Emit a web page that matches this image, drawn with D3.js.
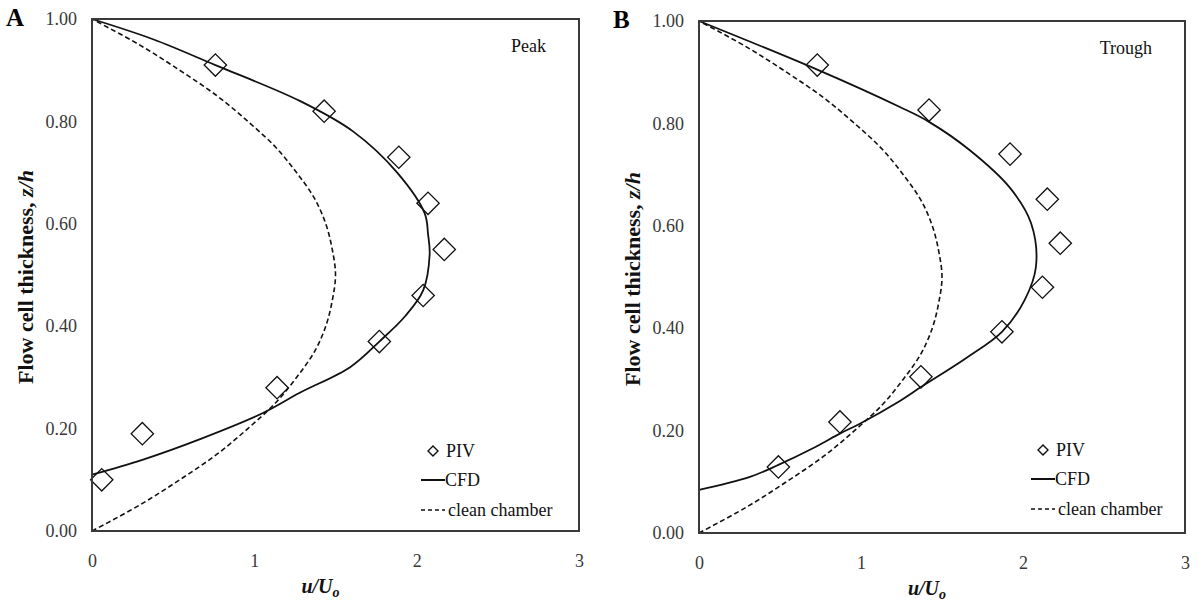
<!DOCTYPE html>
<html>
<head>
<meta charset="utf-8">
<script src="https://cdn.jsdelivr.net/npm/d3@7"></script>
<style>
body { margin: 0; background: #fff; }
</style>
</head>
<body>
<div id="fig"></div>
<script>
// tick values
var uTicks = [0, 1, 2, 3]
var zTicks = [0, 0.2, 0.4, 0.6, 0.8, 1.0]

// panel A (peak) - PIV points
var pivA_u = [0.76, 1.43, 1.89, 2.07, 2.17, 2.04, 1.77, 1.14, 0.31, 0.06]
var pivA_z = [0.91, 0.82, 0.73, 0.64, 0.55, 0.46, 0.37, 0.28, 0.19, 0.10]

// panel A - CFD profile
var cfdA_u = [0, 0.38, 0.76, 1.28, 1.61, 1.88, 2.05, 2.07, 2.08, 2.04, 1.93, 1.77, 1.59, 1.28, 1.05, 0.67, 0.31, 0]
var cfdA_z = [1.00, 0.96, 0.91, 0.84, 0.78, 0.70, 0.62, 0.58, 0.54, 0.47, 0.42, 0.37, 0.32, 0.27, 0.23, 0.18, 0.139, 0.11]

// panel B (trough) - PIV points
var pivB_u = [0.73, 1.42, 1.92, 2.15, 2.23, 2.12, 1.87, 1.37, 0.87, 0.49]
var pivB_z = [0.914, 0.826, 0.74, 0.652, 0.566, 0.48, 0.393, 0.305, 0.217, 0.129]

// panel B - CFD profile
var cfdB_u = [0, 0.73, 1.24, 1.42, 1.67, 1.92, 2.05, 2.08, 2.01, 1.87, 1.65, 1.37, 1.24, 0.99, 0.875, 0.70, 0.49, 0.31, 0]
var cfdB_z = [1.00, 0.905, 0.832, 0.803, 0.748, 0.674, 0.605, 0.52, 0.455, 0.393, 0.342, 0.285, 0.258, 0.213, 0.195, 0.165, 0.133, 0.109, 0.084]

// clean chamber profile (same in both panels)
var clean_u = [0, 0.29, 0.54, 0.77, 0.96, 1.13, 1.26, 1.37, 1.44, 1.48, 1.50, 1.48, 1.44, 1.37, 1.26, 1.13, 0.96, 0.77, 0.54, 0.29, 0]
var clean_z = [0, 0.05, 0.10, 0.15, 0.20, 0.25, 0.30, 0.35, 0.40, 0.45, 0.50, 0.55, 0.60, 0.65, 0.70, 0.75, 0.80, 0.85, 0.90, 0.95, 1.00]

var FONT = "Liberation Serif"
var width = 1200, height = 609

var svg = d3.select("#fig").append("svg")
	.attr("width", width)
	.attr("height", height)
	.attr("font-family", FONT)

function zip(us, zs){
	return us.map(function(u, i){ return [u, zs[i]] })
}

function draw(p){
	var g = svg.append("g")

	var x = d3.scaleLinear().domain([0, 3]).range([p.left, p.right])
	var y = d3.scaleLinear().domain([0, 1]).range([p.bottom, p.top])

	var line = d3.line()
		.x(function(d){ return x(d[0]) })
		.y(function(d){ return y(d[1]) })
		.curve(d3.curveCatmullRom)

	// clean chamber, dashed
	g.append("path")
		.datum(zip(clean_u, clean_z))
		.attr("d", line)
		.attr("fill", "none")
		.attr("stroke", "#111")
		.attr("stroke-width", 1.6)
		.attr("stroke-dasharray", "5,3")

	// CFD
	g.append("path")
		.datum(zip(p.cfdU, p.cfdZ))
		.attr("d", line)
		.attr("fill", "none")
		.attr("stroke", "#111")
		.attr("stroke-width", 1.8)

	// PIV diamonds
	var sym = d3.symbol().type(d3.symbolSquare).size(250)
	g.selectAll("path.piv")
		.data(zip(p.pivU, p.pivZ))
		.enter()
		.append("path")
		.attr("class", "piv")
		.attr("d", sym)
		.attr("transform", function(d){ return "translate(" + x(d[0]) + "," + y(d[1]) + ") rotate(45)" })
		.attr("fill", "none")
		.attr("stroke", "#111")
		.attr("stroke-width", 1.3)

	// frame
	g.append("rect")
		.attr("x", p.left)
		.attr("y", p.top)
		.attr("width", p.right - p.left)
		.attr("height", p.bottom - p.top)
		.attr("fill", "none")
		.attr("stroke", "#3a3a3a")
		.attr("stroke-width", 2)

	// axes, labels only
	var yAxis = d3.axisLeft(y).tickValues(zTicks).tickSize(0).tickPadding(15).tickFormat(d3.format(".2f"))
	var xAxis = d3.axisBottom(x).tickValues(uTicks).tickSize(0).tickPadding(23).tickFormat(d3.format("d"))

	var ya = g.append("g").attr("transform", "translate(" + p.left + ",0)").call(yAxis)
	var xa = g.append("g").attr("transform", "translate(0," + p.bottom + ")").call(xAxis)
	ya.select(".domain").remove()
	xa.select(".domain").remove()
	ya.attr("font-family", FONT).attr("font-size", 18)
	xa.attr("font-family", FONT).attr("font-size", 18)
	g.selectAll(".tick text")
		.attr("fill", "#383838")

	// axis titles
	var yt = g.append("text")
		.attr("transform", "translate(" + (p.left - 59) + "," + ((p.top + p.bottom) / 2 + 2) + ") rotate(-90)")
		.attr("text-anchor", "middle")
		.attr("font-size", 22)
		.attr("font-weight", "bold")
		.attr("fill", "#111")
	yt.append("tspan").text("Flow cell thickness, ")
	yt.append("tspan").attr("font-style", "italic").text("z/h")

	var xt = g.append("text")
		.attr("x", (p.left + p.right) / 2 - 15)
		.attr("y", p.bottom + 62)
		.attr("text-anchor", "middle")
		.attr("font-size", 20)
		.attr("font-weight", "bold")
		.attr("font-style", "italic")
		.attr("fill", "#111")
	xt.append("tspan").text("u/U")
	xt.append("tspan").attr("font-size", 14).attr("dy", 4).text("o")

	// panel letter and case name
	g.append("text")
		.attr("x", p.left - 86)
		.attr("y", p.top + 7)
		.attr("font-size", 25)
		.attr("font-weight", "bold")
		.attr("fill", "#000")
		.text(p.letter)

	g.append("text")
		.attr("x", p.right - 33)
		.attr("y", p.top + 33)
		.attr("text-anchor", "end")
		.attr("font-size", 18)
		.attr("fill", "#111")
		.text(p.name)

	// legend
	var lg = g.append("g").attr("transform", "translate(" + p.legX + "," + p.legY + ")")
		.attr("font-size", 18)
	lg.append("path")
		.attr("d", d3.symbol().type(d3.symbolSquare).size(50))
		.attr("transform", "translate(12,0) rotate(45)")
		.attr("fill", "none")
		.attr("stroke", "#111")
		.attr("stroke-width", 1.4)
	lg.append("text").attr("x", 25).attr("y", 6).attr("fill", "#111").text("PIV")

	lg.append("line")
		.attr("x1", 0).attr("x2", 24).attr("y1", 29).attr("y2", 29)
		.attr("stroke", "#111").attr("stroke-width", 2)
	lg.append("text").attr("x", 24).attr("y", 35).attr("fill", "#111").text("CFD")

	lg.append("line")
		.attr("x1", 0).attr("x2", 24).attr("y1", 59).attr("y2", 59)
		.attr("stroke", "#111").attr("stroke-width", 1.4)
		.attr("stroke-dasharray", "4,3")
	lg.append("text").attr("x", 27).attr("y", 65).attr("fill", "#111").text("clean chamber")
}

draw({
	letter: "A", name: "Peak",
	left: 92, right: 579, top: 19, bottom: 531,
	pivU: pivA_u, pivZ: pivA_z, cfdU: cfdA_u, cfdZ: cfdA_z,
	legX: 421, legY: 451
})

draw({
	letter: "B", name: "Trough",
	left: 699, right: 1185, top: 21, bottom: 533,
	pivU: pivB_u, pivZ: pivB_z, cfdU: cfdB_u, cfdZ: cfdB_z,
	legX: 1031, legY: 450
})
</script>
</body>
</html>
